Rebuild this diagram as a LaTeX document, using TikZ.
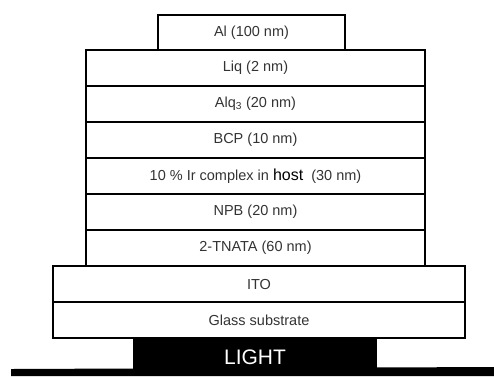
\documentclass[tikz,border=0pt]{standalone}
\usepackage{fontspec}
\setmainfont{Liberation Sans}
\usetikzlibrary{positioning}

\begin{document}
\begin{tikzpicture}[x=1pt,y=-1pt,
		layer/.style={draw,line width=2.4pt,inner sep=0pt,outer sep=0pt,minimum height=36pt,
			text=black!80,font=\fontsize{14.5}{16}\selectfont},
		organic/.style={layer,minimum width=339pt},
		anode/.style={layer,minimum width=412pt}]
		% Frame
		\useasboundingbox (0,0) rectangle (494,376);
		
		% Cathode
		\node[layer,minimum width=187pt,minimum height=35pt] (al) at (251.5,32.5) {Al (100 nm)};
		
		% Organic layers
		\node[organic] (liq) at (255.5,68) {Liq (2 nm)};
		\node[organic,below=0pt of liq] (alq) {Alq\textsubscript{3} (20 nm)};
		\node[organic,below=0pt of alq] (bcp) {BCP (10 nm)};
		\node[organic,below=0pt of bcp] (eml) {10 \% Ir complex in {\color{black}\fontsize{16}{16}\selectfont host}\ \ (30 nm)};
		\node[organic,below=0pt of eml] (npb) {NPB (20 nm)};
		\node[organic,below=0pt of npb] (tnata) {2-TNATA (60 nm)};
		
		% Anode and substrate
		\node[anode] (ito) at (259,284) {ITO};
		\node[anode,below=0pt of ito] (glass) {Glass substrate};
		
		% Light out
		\fill (11,369) -- (494,367) -- (494,376) -- (11,376) -- cycle;
		\node[fill=black,text=white,inner sep=0pt,outer sep=0pt,minimum width=244pt,minimum height=38pt,
			font=\fontsize{21}{24}\selectfont] (light) at (255,357) {LIGHT};
	\end{tikzpicture}
\end{document}
